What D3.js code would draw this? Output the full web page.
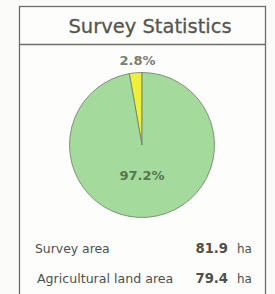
<!DOCTYPE html>
<html>
<head>
<meta charset="utf-8">
<script src="https://cdn.jsdelivr.net/npm/d3@7"></script>
<style>
  html, body { margin: 0; padding: 0; background: #fbfcfa; }
  svg { display: block; font-family: "DejaVu Sans", sans-serif; }
</style>
</head>
<body>
<div id="chart"></div>
<script>
var sliceNames = ["Other", "Agricultural land"];
var sliceValues = [2.8, 97.2];
var sliceLabels = ["2.8%", "97.2%"];
var sliceColors = ["#eef03c", "#a4da9c"];

var statNames = ["Survey area", "Agricultural land area"];
var statValues = ["81.9", "79.4"];
var statUnits = ["ha", "ha"];

(function () {
  'use strict'

  var width = 275, height = 294;
  var svg = d3.select("#chart").append("svg")
    .attr("width", width)
    .attr("height", height);

  // frame
  svg.append("rect")
    .attr("x", 19.5).attr("y", 6.5)
    .attr("width", 246).attr("height", 300)
    .attr("fill", "#fdfdfc")
    .attr("stroke", "#6c6e68")
    .attr("stroke-width", 1.3);
  svg.append("line")
    .attr("x1", 19.5).attr("x2", 265.5)
    .attr("y1", 44.5).attr("y2", 44.5)
    .attr("stroke", "#6c6e68")
    .attr("stroke-width", 1.3);

  svg.append("text")
    .attr("x", 150).attr("y", 33)
    .attr("text-anchor", "middle")
    .attr("font-size", 19.5)
    .attr("fill", "#54574f")
    .attr("stroke", "#54574f").attr("stroke-width", 0.3)
    .text("Survey Statistics");

  // pie
  var cx = 142, cy = 145, r = 72.5;
  var pie = d3.pie().sort(null)
    .startAngle(-2 * Math.PI * sliceValues[0] / 100)
    .endAngle(2 * Math.PI - 2 * Math.PI * sliceValues[0] / 100);
  var arc = d3.arc().innerRadius(0).outerRadius(r);
  var arcs = pie(sliceValues);

  var g = svg.append("g").attr("transform", "translate(" + cx + "," + cy + ")");
  g.selectAll("path")
    .data(arcs)
    .enter().append("path")
    .attr("d", arc)
    .attr("fill", function(d, i){ return sliceColors[i]; })
    .attr("stroke", "#6f7a66")
    .attr("stroke-width", 0.8);

  // slice labels
  g.append("text")
    .attr("x", -4.5).attr("y", -80)
    .attr("text-anchor", "middle")
    .attr("font-size", 13).attr("font-weight", "bold")
    .attr("fill", "#7b7d73")
    .text(sliceLabels[0]);
  g.append("text")
    .attr("x", 0).attr("y", 35)
    .attr("text-anchor", "middle")
    .attr("font-size", 13).attr("font-weight", "bold")
    .attr("fill", "#55774f")
    .text(sliceLabels[1]);

  // stats rows
  var rowY = [253, 283];
  var rowX = [35, 37];
  var rowSize = [12.4, 12.6];
  var rows = svg.selectAll(".statRow")
    .data(statNames)
    .enter().append("g")
    .attr("class", "statRow");
  rows.append("text")
    .attr("x", function(d, i){ return rowX[i]; })
    .attr("y", function(d, i){ return rowY[i]; })
    .attr("font-size", function(d, i){ return rowSize[i]; })
    .attr("fill", "#4e514b")
    .text(function(d){ return d; });
  rows.append("text")
    .attr("x", 228)
    .attr("y", function(d, i){ return rowY[i]; })
    .attr("text-anchor", "end")
    .attr("font-size", 13.2).attr("font-weight", "bold")
    .attr("fill", "#4e514b")
    .text(function(d, i){ return statValues[i]; });
  rows.append("text")
    .attr("x", 237)
    .attr("y", function(d, i){ return rowY[i]; })
    .attr("font-size", 12)
    .attr("fill", "#4e514b")
    .text(function(d, i){ return statUnits[i]; });
})()
</script>
</body>
</html>
